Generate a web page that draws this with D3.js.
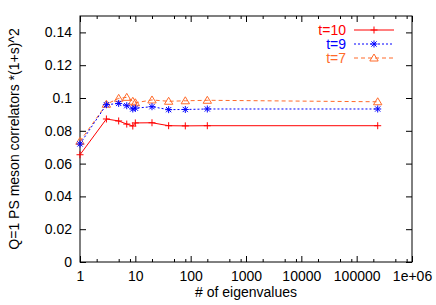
<!DOCTYPE html>
<html>
<head>
<meta charset="utf-8">
<script src="https://cdn.jsdelivr.net/npm/d3@7"></script>
<style>
  body { margin: 0; background: #fff; }
  svg text { font-family: "Liberation Sans", Arial, sans-serif; font-size: 14px; }
</style>
</head>
<body>
<div id="chart"></div>
<script>
// number of eigenvalues used
var nEig = [1, 3, 5, 7, 9, 10, 20, 40, 80, 200, 240000];
// correlator values per time slice
var t10 = [0.0654, 0.0872, 0.0860, 0.0841, 0.0829, 0.0848, 0.0849, 0.0831, 0.0830, 0.0831, 0.0831];
var t9  = [0.0720, 0.0959, 0.0967, 0.0953, 0.0933, 0.0938, 0.0947, 0.0929, 0.0930, 0.0933, 0.0933];
var t7  = [0.0736, 0.0962, 0.0998, 0.1004, 0.0980, 0.0971, 0.0988, 0.0980, 0.0983, 0.0986, 0.0977];
var seriesNames = ["t=10", "t=9", "t=7"];

var xTicks = [1, 10, 100, 1000, 10000, 100000, 1000000];
var xTickLabels = ["1", "10", "100", "1000", "10000", "100000", "1e+06"];
var yTicks = [0, 0.02, 0.04, 0.06, 0.08, 0.1, 0.12, 0.14];
var yTickLabels = ["0", "0.02", "0.04", "0.06", "0.08", "0.1", "0.12", "0.14"];

var W = 436, H = 305;
// plot box (note: "top" is a reserved window prop, so prefixed names)
var pL = 80, pR = 412, pT = 16, pB = 262;

var svg = d3.select("#chart").append("svg")
  .attr("width", W).attr("height", H);

var x = d3.scaleLog().domain([1, 1e6]).range([pL, pR]);
var y = d3.scaleLinear().domain([0, 0.15]).range([pB, pT]);

//minor ticks at 2,5,8 of each decade (like the gnuplot output)
var minor = [];
xTicks.slice(0, -1).forEach(function(d){
  [2, 5, 8].forEach(function(m){ minor.push(d*m); });
});

function styleAxis(g){
  g.select(".domain").remove();
  g.selectAll("line").attr("stroke", "#000");
  g.selectAll("text").attr("fill", "#000").attr("font-size", 14)
    .attr("font-family", "Liberation Sans, Arial, sans-serif");
}

// bottom axis
svg.append("g").attr("transform", "translate(0," + pB + ")")
  .call(d3.axisBottom(x).tickValues(xTicks)
    .tickFormat(function(d, i){ return xTickLabels[i]; })
    .tickSizeInner(-6).tickSizeOuter(0).tickPadding(9))
  .call(styleAxis);
svg.append("g").attr("transform", "translate(0," + pB + ")")
  .call(d3.axisBottom(x).tickValues(minor).tickFormat("")
    .tickSizeInner(-3).tickSizeOuter(0))
  .call(styleAxis);
// top mirror
svg.append("g").attr("transform", "translate(0," + pT + ")")
  .call(d3.axisTop(x).tickValues(xTicks).tickFormat("")
    .tickSizeInner(-6).tickSizeOuter(0))
  .call(styleAxis);
svg.append("g").attr("transform", "translate(0," + pT + ")")
  .call(d3.axisTop(x).tickValues(minor).tickFormat("")
    .tickSizeInner(-3).tickSizeOuter(0))
  .call(styleAxis);
// left axis
svg.append("g").attr("transform", "translate(" + pL + ",0)")
  .call(d3.axisLeft(y).tickValues(yTicks)
    .tickFormat(function(d, i){ return yTickLabels[i]; })
    .tickSizeInner(-6).tickSizeOuter(0).tickPadding(8))
  .call(styleAxis);
// right mirror
svg.append("g").attr("transform", "translate(" + pR + ",0)")
  .call(d3.axisRight(y).tickValues(yTicks).tickFormat("")
    .tickSizeInner(-6).tickSizeOuter(0))
  .call(styleAxis);

// frame
svg.append("rect")
  .attr("x", pL).attr("y", pT)
  .attr("width", pR - pL).attr("height", pB - pT)
  .attr("fill", "none").attr("stroke", "#000").attr("stroke-width", 1);

// axis titles
svg.append("text")
  .attr("x", 246).attr("y", 297)
  .attr("text-anchor", "middle")
  .text("# of eigenvalues");
svg.append("text")
  .attr("transform", "translate(19,139) rotate(-90)")
  .attr("text-anchor", "middle")
  .text("Q=1 PS meson correlators *(1+s)^2");

// marker shapes
function plusPath(s){ return "M" + (-s) + ",0H" + s + "M0," + (-s) + "V" + s; }
function starPath(s){
  var k = s * 0.75;
  return plusPath(s) + "M" + (-k) + "," + (-k) + "L" + k + "," + k +
    "M" + (-k) + "," + k + "L" + k + "," + (-k);
}
function triPath(s){
  return "M0," + (-s) + "L" + (s*1.05) + "," + (s*0.75) + "L" + (-s*1.05) + "," + (s*0.75) + "Z";
}

var series = [
  {name: seriesNames[0], values: t10, color: "#ff0000", dash: null, marker: plusPath(3.5)},
  {name: seriesNames[1], values: t9, color: "#0000ff", dash: "2,2", marker: starPath(3.5)},
  {name: seriesNames[2], values: t7, color: "#ff6a2a", dash: "4,3", marker: triPath(4)}
];

var line = d3.line()
  .x(function(d){ return x(d[0]); })
  .y(function(d){ return y(d[1]); });

// draw in reverse so t=10 ends on top
series.slice().reverse().forEach(function(s){
  var pts = nEig.map(function(n, i){ return [n, s.values[i]]; });
  svg.append("path")
    .datum(pts)
    .attr("d", line)
    .attr("fill", "none")
    .attr("stroke", s.color)
    .attr("stroke-width", 1)
    .attr("stroke-dasharray", s.dash);
  svg.selectAll(null)
    .data(pts).enter()
    .append("path")
    .attr("transform", function(d){ return "translate(" + x(d[0]) + "," + y(d[1]) + ")"; })
    .attr("d", s.marker)
    .attr("fill", "none")
    .attr("stroke", s.color)
    .attr("stroke-width", 1);
});

// legend
series.forEach(function(s, i){
  var ly = 30 + i * 14;
  var g = svg.append("g").attr("transform", "translate(0," + ly + ")");
  g.append("text")
    .attr("x", 346).attr("y", 5)
    .attr("text-anchor", "end")
    .attr("fill", s.color)
    .text(s.name);
  g.append("line")
    .attr("x1", 354).attr("x2", 394)
    .attr("stroke", s.color).attr("stroke-width", 1)
    .attr("stroke-dasharray", s.dash);
  g.append("path")
    .attr("transform", "translate(374,0)")
    .attr("d", s.marker)
    .attr("fill", "none")
    .attr("stroke", s.color);
});
</script>
</body>
</html>
